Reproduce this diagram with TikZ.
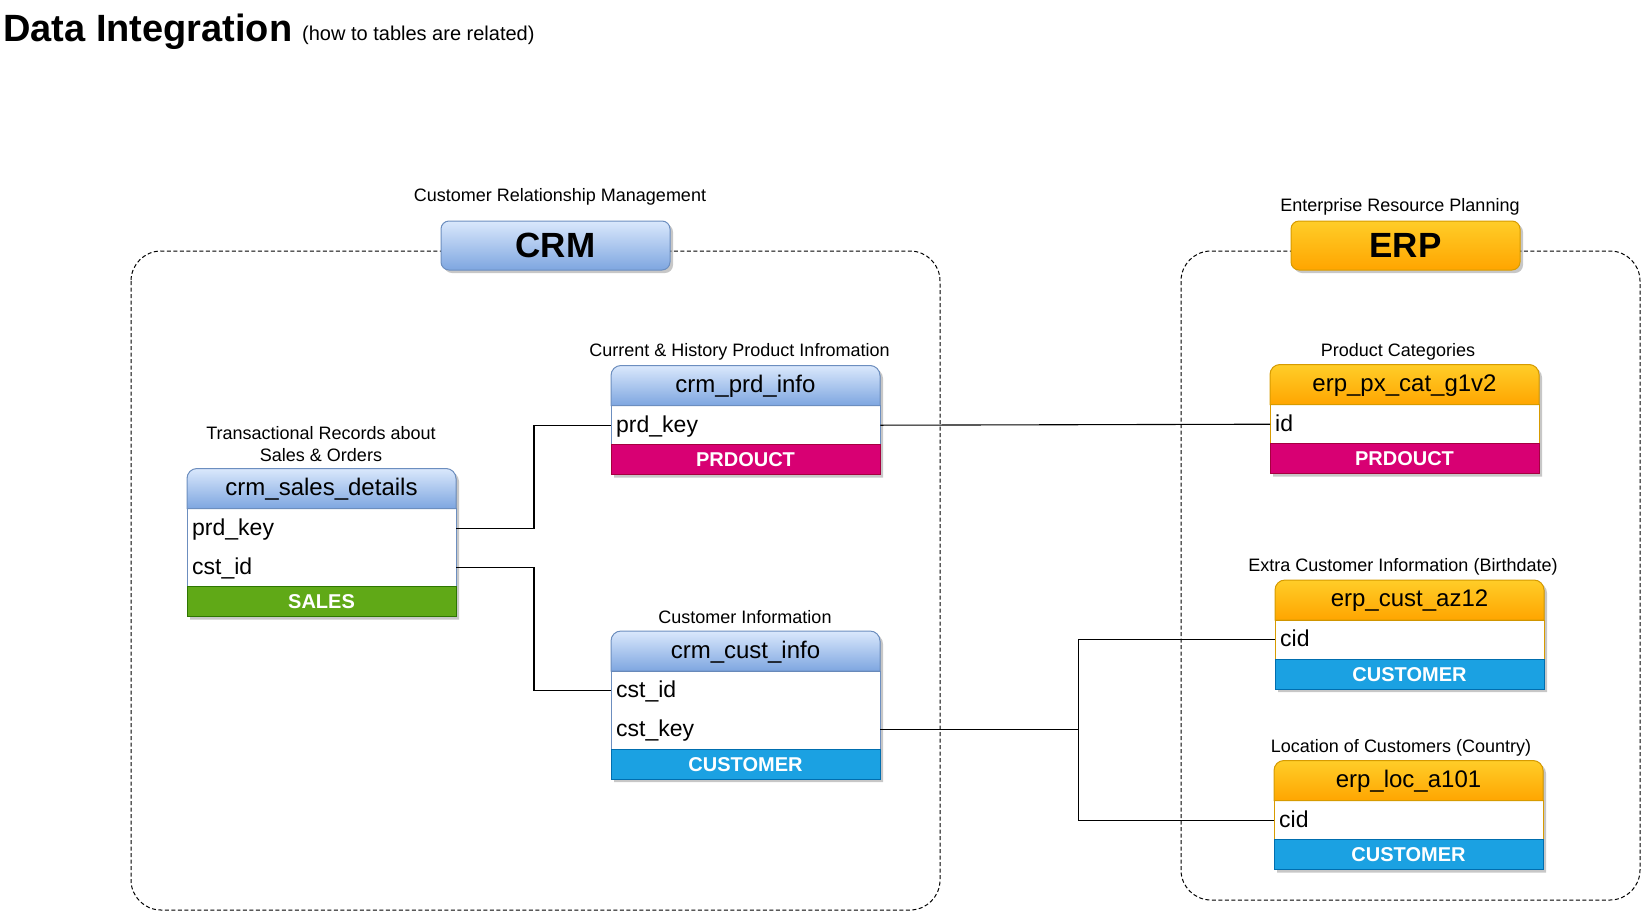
\documentclass[tikz,border=0pt]{standalone}
\usepackage{fontspec}
\setmainfont{Liberation Sans}
\usetikzlibrary{shadows}
\definecolor{blueTop}{HTML}{DAE8FC}
\definecolor{blueBot}{HTML}{7EA6E0}
\definecolor{blueStroke}{HTML}{6C8EBF}
\definecolor{orgTop}{HTML}{FFCD28}
\definecolor{orgBot}{HTML}{FFA500}
\definecolor{orgStroke}{HTML}{D79B00}
\definecolor{salesFill}{HTML}{60A917}
\definecolor{salesStroke}{HTML}{2D7600}
\definecolor{prodFill}{HTML}{D80073}
\definecolor{prodStroke}{HTML}{A50040}
\definecolor{custFill}{HTML}{1BA1E2}
\definecolor{custStroke}{HTML}{006EAF}
\tikzset{
  bluehead/.style={top color=blueTop,bottom color=blueBot,draw=blueStroke,line width=1pt},
  bluebody/.style={fill=white,draw=blueStroke,line width=1pt},
  orangehead/.style={top color=orgTop,bottom color=orgBot,draw=orgStroke,line width=1pt},
  orangebody/.style={fill=white,draw=orgStroke,line width=1pt},
  salesfoot/.style={fill=salesFill,draw=salesStroke},
  prodfoot/.style={fill=prodFill,draw=prodStroke},
  custfoot/.style={fill=custFill,draw=custStroke},
  tabshadow/.style={fill=black,opacity=0.22},
  headtext/.style={inner sep=0pt,font=\fontsize{24}{28}\selectfont},
  rowtext/.style={minimum width=269pt,minimum height=39pt,text width=259pt,inner xsep=5pt,inner ysep=0pt,align=left,
     text height=18.5pt,text depth=4.8pt,font=\fontsize{23}{26}\selectfont},
  footbox/.style={minimum width=269pt,minimum height=30pt,inner sep=0pt,line width=1pt,text=white,
     text height=14.3pt,text depth=0pt,font=\bfseries\fontsize{20}{22}\selectfont},
  desc/.style={inner sep=0pt,align=center,font=\fontsize{18}{22}\selectfont},
  groupbox/.style={rounded corners=8pt,line width=1pt,minimum width=229pt,minimum height=49pt,inner sep=0pt,
     font=\bfseries\fontsize{35}{38}\selectfont,
     drop shadow={shadow xshift=3pt,shadow yshift=-3pt,opacity=0.22,fill=black}},
  container/.style={draw=black,dash pattern=on 4pt off 2.5pt,rounded corners=30pt,line width=1pt},
  conn/.style={draw=black,line width=1.1pt},
}
% #1 name, #2 x, #3 ytop, #4 title, #5 theme, #6 rows, #7 nrows, #8 footer text, #9 footer style
\newcommand\dbtable[9]{%
  \pgfmathsetmacro\hb{#3+40}%
  \pgfmathsetmacro\fb{\hb+#7*39}%
  \pgfmathsetmacro\fe{\fb+30}%
  \fill[tabshadow] ({#2+3},{\fe+3}) -- ({#2+3},{#3+13}) arc[start angle=180,end angle=270,radius=10] -- ({#2+262},{#3+3}) arc[start angle=270,end angle=360,radius=10] -- ({#2+272},{\fe+3}) -- cycle;
  \filldraw[#5body] (#2,\hb) rectangle ({#2+269},\fb);
  \foreach \r [count=\i] in {#6} {\node[rowtext,anchor=north west] (#1-r\i) at (#2,{\hb+(\i-1)*39}) {\r};}
  \filldraw[#5head] (#2,\hb) -- (#2,{#3+10}) arc[start angle=180,end angle=270,radius=10] -- ({#2+259},#3) arc[start angle=270,end angle=360,radius=10] -- ({#2+269},\hb) -- cycle;
  \node[headtext] (#1-h) at ({#2+134.5},{#3+21}) {#4};
  \node[footbox,#9] (#1-f) at ({#2+134.5},{\fb+15}) {#8};
}
\begin{document}
\begin{tikzpicture}[x=1pt,y=-1pt]
\useasboundingbox (0,0) rectangle (1647,919);
% title
\node[anchor=base west,inner sep=0pt,font=\bfseries\fontsize{38}{42}\selectfont] (title) at (3,41) {Data Integration};
\node[anchor=base west,inner sep=0pt,font=\fontsize{20}{24}\selectfont] (subtitle) at (302,40) {(how to tables are related)};
% containers
\draw[container] (131,251) rectangle (940,910);
\draw[container] (1181,251) rectangle (1640,900);
% tables
\dbtable{sales}{187}{468.5}{crm\_sales\_details}{blue}{prd\_key,cst\_id}{2}{SALES}{salesfoot}
\dbtable{prd}{611}{365.5}{crm\_prd\_info}{blue}{prd\_key}{1}{PRDOUCT}{prodfoot}
\dbtable{cust}{611}{631}{crm\_cust\_info}{blue}{cst\_id,cst\_key}{2}{CUSTOMER}{custfoot}
\dbtable{px}{1270}{364.5}{erp\_px\_cat\_g1v2}{orange}{id}{1}{PRDOUCT}{prodfoot}
\dbtable{az}{1275}{580}{erp\_cust\_az12}{orange}{cid}{1}{CUSTOMER}{custfoot}
\dbtable{loc}{1274}{760.5}{erp\_loc\_a101}{orange}{cid}{1}{CUSTOMER}{custfoot}
% descriptions
\node[desc] (crmlabel) at (560,197) {Customer Relationship Management};
\node[desc] (erplabel) at (1400,206.5) {Enterprise Resource Planning};
\node[desc] (saleslabel) at (321,444.5) {Transactional Records about\\Sales \& Orders};
\node[desc] (prdlabel) at (739.5,351.5) {Current \& History Product Infromation};
\node[desc] (custlabel) at (745,617) {Customer Information};
\node[desc] (pxlabel) at (1398,351.5) {Product Categories};
\node[desc] (azlabel) at (1403,566.5) {Extra Customer Information (Birthdate)};
\node[desc] (loclabel) at (1401,747.5) {Location of Customers (Country)};
% group boxes
\node[groupbox,bluehead] (crm) at (555.5,245.5) {CRM};
\node[groupbox,orangehead] (erp) at (1405.5,245.5) {ERP};
% connectors
\draw[conn] (sales-r1.east) -- ([xshift=77.6pt]sales-r1.east) |- (prd-r1.west);
\draw[conn] (sales-r2.east) -- ([xshift=77.6pt]sales-r2.east) |- (cust-r1.west);
\draw[conn] (prd-r1.east) -- (px-r1.west);
\draw[conn] (cust-r2.east) -- ([xshift=197.7pt]cust-r2.east) coordinate (j) |- (az-r1.west);
\draw[conn] (j) |- (loc-r1.west);
\end{tikzpicture}
\end{document}
